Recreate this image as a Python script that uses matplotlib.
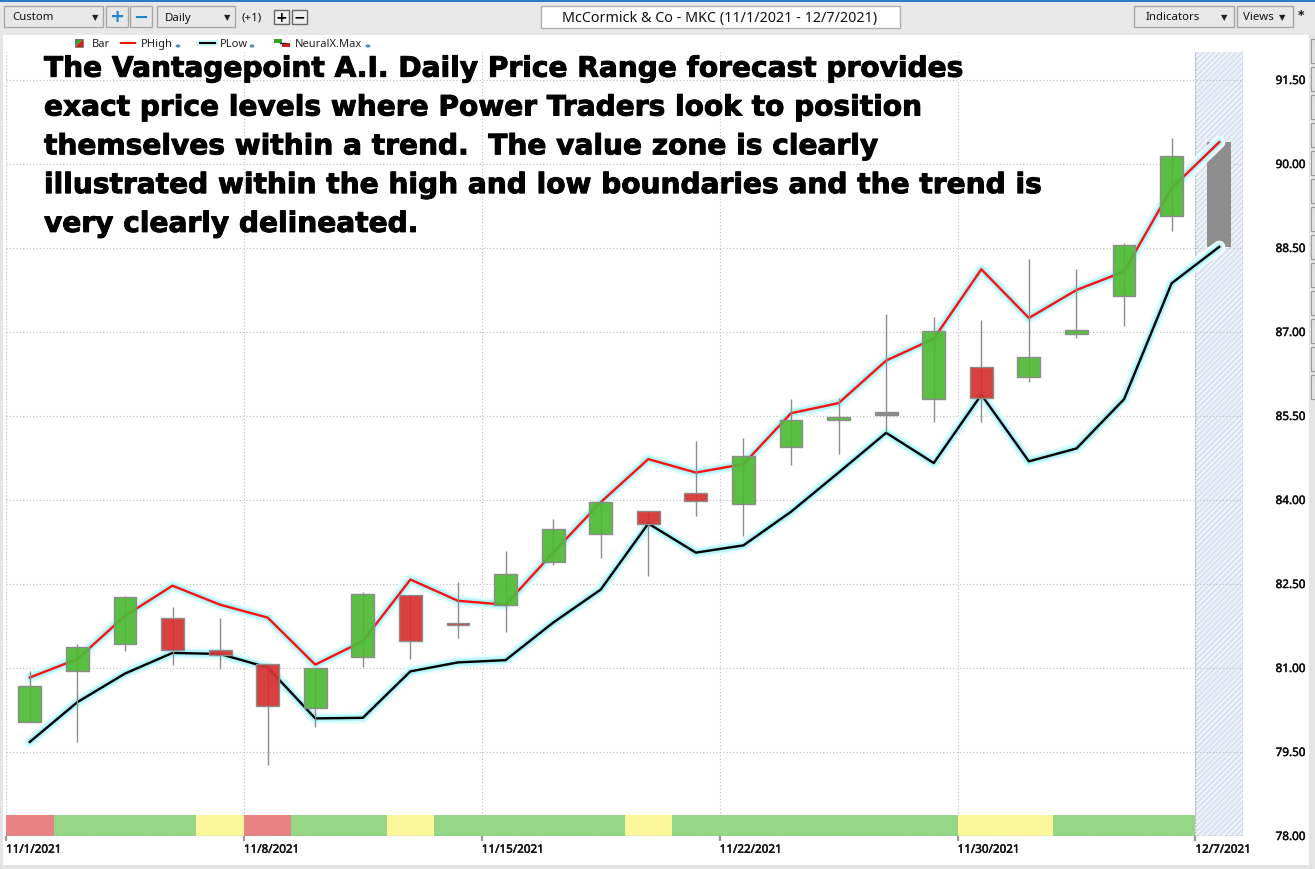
import numpy as np
import matplotlib
matplotlib.use('Agg')
import matplotlib.pyplot as plt
import matplotlib.patheffects as pe
from matplotlib.patches import Rectangle, Polygon, Circle
from matplotlib.lines import Line2D

# trading days (last one is the forecast day)
days = ['11/1', '11/2', '11/3', '11/4', '11/5', '11/8', '11/9', '11/10', '11/11', '11/12',
        '11/15', '11/16', '11/17', '11/18', '11/19', '11/22', '11/23', '11/24', '11/26',
        '11/29', '11/30', '12/1', '12/2', '12/3', '12/6', '12/7']

opens  = [80.03, 80.94, 81.42, 81.90, 81.32, 81.07, 80.28, 81.19, 82.31, 81.81,
          82.12, 82.89, 83.39, 83.81, 84.12, 83.92, 84.94, 85.42, 85.52, 85.81,
          86.37, 86.19, 86.96, 87.64, 89.07]
highs  = [80.94, 81.43, 82.28, 82.09, 81.89, 81.07, 81.00, 82.35, 82.31, 82.53,
          83.09, 83.66, 84.00, 83.81, 85.05, 85.11, 85.80, 85.83, 87.32, 87.26,
          87.21, 88.30, 88.13, 88.59, 90.47]
lows   = [80.03, 79.67, 81.31, 81.05, 80.99, 79.27, 79.94, 81.01, 81.16, 81.53,
          81.65, 82.84, 82.96, 82.65, 83.71, 83.36, 84.63, 84.83, 85.21, 85.40,
          85.39, 86.11, 86.90, 87.11, 88.81]
closes = [80.68, 81.37, 82.26, 81.32, 81.24, 80.33, 81.00, 82.32, 81.48, 81.76,
          82.68, 83.49, 83.96, 83.57, 83.98, 84.78, 85.42, 85.49, 85.52, 87.01,
          85.83, 86.56, 87.04, 88.55, 90.14]

phigh = [80.83, 81.16, 81.93, 82.47, 82.13, 81.90, 81.06, 81.48, 82.58, 82.20,
         82.13, 83.06, 83.96, 84.73, 84.49, 84.64, 85.55, 85.73, 86.49, 86.88,
         88.12, 87.25, 87.75, 88.08, 89.57, 90.39]
plow  = [79.68, 80.39, 80.90, 81.27, 81.25, 81.01, 80.10, 80.11, 80.94, 81.10,
         81.14, 81.81, 82.40, 83.58, 83.06, 83.19, 83.79, 84.49, 85.20, 84.66,
         85.88, 84.69, 84.92, 85.80, 87.87, 88.52]

# NeuralX signal strip: r = down, g = up, y = neutral
signal = ['r', 'g', 'g', 'g', 'y', 'r', 'g', 'g', 'y', 'g', 'g', 'g', 'g', 'y',
          'g', 'g', 'g', 'g', 'g', 'g', 'y', 'y', 'g', 'g', 'g']

tick_days = ['11/1', '11/8', '11/15', '11/22', '11/30', '12/7']
price_ticks = [78.00, 79.50, 81.00, 82.50, 84.00, 85.50, 87.00, 88.50, 90.00, 91.50]

note = ["The Vantagepoint A.I. Daily Price Range forecast provides",
        "exact price levels where Power Traders look to position",
        "themselves within a trend.  The value zone is clearly",
        "illustrated within the high and low boundaries and the trend is",
        "very clearly delineated."]

W, H = 1315, 870
UI = 'Noto Sans'
fig = plt.figure(figsize=(W / 100, H / 100), dpi=100)
fig.patch.set_facecolor('white')


def box(x0, y0, x1, y1, fc, ec='none', lw=1.0, z=1):
    r = Rectangle((x0 / W, 1 - y1 / H), (x1 - x0) / W, (y1 - y0) / H,
                  transform=fig.transFigure, facecolor=fc, edgecolor=ec, lw=lw, zorder=z)
    fig.add_artist(r)


def txt(x, y, s, **kw):
    return fig.text(x / W, 1 - y / H, s, **kw)


def seg(x0, y0, x1, y1, **kw):
    fig.add_artist(Line2D([x0 / W, x1 / W], [1 - y0 / H, 1 - y1 / H],
                          transform=fig.transFigure, **kw))


# ---- main chart axes
ax = fig.add_axes([6 / W, 33 / H, 1237 / W, 784 / H])
ax.set_xlim(-0.5, len(days) - 0.5)
ax.set_ylim(78, 92)
for s in ax.spines.values():
    s.set_visible(False)

x = np.arange(len(days))
grid_kw = dict(color='#bdbdbd', lw=0.8, ls=(0, (1, 2)), zorder=0.5)
for p in price_ticks[1:]:
    ax.axhline(p, **grid_kw)
tick_pos = [days.index(d) - 0.5 for d in tick_days]
for t in tick_pos:
    ax.axvline(t, **grid_kw)

# forecast zone
ax.axvspan(len(days) - 1.5, len(days) - 0.5, facecolor='#eef2f9', edgecolor='#d3dcea',
           hatch='//////', lw=0, zorder=0.3)
ax.axvline(len(days) - 1.5, color='#9fb6d3', lw=0.9, ls=(0, (1, 1.5)), zorder=0.6)
ax.axvline(len(days) - 0.5, color='#3d8fdc', lw=1.0, ls=(0, (1, 1.5)), zorder=0.6)
ax.axhline(78, color='#3d8fdc', lw=1.0, ls=(0, (1, 1.5)), zorder=6)

# signal strip
strip_cols = {'r': '#e88282', 'g': '#96d786', 'y': '#fdf79c'}
ax.bar(x[:-1], 0.38, bottom=78, width=1.0, color=[strip_cols[c] for c in signal],
       lw=0, zorder=1)


def glow_line(y, color):
    for lw, c in [(9, '#f0feff'), (6.5, '#d6fbfe'), (4.2, '#aef4fa')]:
        ax.plot(x, y, color=c, lw=lw, solid_joinstyle='round', solid_capstyle='round', zorder=3)
    ax.plot(x, y, color=color, lw=1.7, solid_joinstyle='round', zorder=3.5)


# forecast bar
ax.add_patch(Rectangle((x[-1] - 0.25, plow[-1]), 0.5, phigh[-1] - plow[-1],
                       facecolor='#8e8e8e', lw=0, zorder=2.5))
glow_line(phigh, '#ff1010')
glow_line(plow, '#000000')

# candles
for i in range(len(opens)):
    o, h, l, c = opens[i], highs[i], lows[i], closes[i]
    if c > o:
        fc = (0.30, 0.73, 0.20, 0.92)
    elif c < o:
        fc = (0.84, 0.19, 0.19, 0.92)
    else:
        fc = (0.55, 0.55, 0.55, 1.0)
    ax.vlines(i, l, h, color='#8c8c8c', lw=1.0, zorder=3.8)
    ax.add_patch(Rectangle((i - 0.24, min(o, c)), 0.48, max(abs(c - o), 0.05),
                           facecolor=fc, edgecolor='#8c8c8c', lw=1.0, zorder=4))

# axis ticks / labels
ax.yaxis.tick_right()
ax.set_yticks(price_ticks)
ax.set_yticklabels([f'{p:.2f}' for p in price_ticks], fontfamily=UI, fontsize=8.4,
                   color='#111111')
ax.tick_params(axis='y', length=0, pad=23.5)
ax.set_xticks(tick_pos)
ax.set_xticklabels([d + '/2021' for d in tick_days], fontfamily=UI, fontsize=8.4,
                   color='#111111', ha='left')
ax.tick_params(axis='x', length=3.8, width=1.6, color='#9a9a9a', pad=2.5)
for lab in ax.get_xticklabels() + ax.get_yticklabels():
    lab.set_path_effects([pe.withStroke(linewidth=0.35, foreground='#111111')])

# annotation text
for k, line in enumerate(note):
    t = txt(44, 77.7 + k * 38.8, line, fontsize=20.2, fontweight='bold',
            fontfamily='DejaVu Sans', va='baseline', color='black', zorder=10)
    t.set_path_effects([pe.withStroke(linewidth=0.7, foreground='black')])

# ---- window chrome
box(0, 0, W, 36, '#e8e8e8', z=0)
box(0, 0, W, 3, '#2a7cc4', z=0)
box(0, 36, 3, H, '#e4e4e4', z=0)
box(1309, 36, W, H, '#e4e4e4', z=0)
box(0, 866, W, H, '#e4e4e4', z=0)
for yy in range(40, 400, 28):
    box(1311, yy, W, yy + 24, 'none', ec='#9a9a9a', lw=0.8)

# toolbar widgets
box(4, 7, 103, 28, '#e8e8e8', ec='#a8a8a8')
txt(12, 18, 'Custom', fontsize=8.2, fontfamily=UI, va='center', color='#111111')
txt(95, 18, '\u25bc', fontsize=6, va='center', ha='center', color='#222222')
for bx, sym in [(106, '+'), (130, '\u2212')]:
    box(bx, 7, bx + 22, 28, '#e8e8e8', ec='#a8a8a8')
    txt(bx + 11, 17.5, sym, fontsize=13, fontweight='bold', va='center', ha='center',
        color='#1f86d1')
box(157, 7, 235, 28, '#e8e8e8', ec='#a8a8a8')
txt(165, 18, 'Daily', fontsize=8.2, fontfamily=UI, va='center', color='#111111')
txt(227, 18, '\u25bc', fontsize=6, va='center', ha='center', color='#222222')
txt(242, 18, '(+1)', fontsize=8.2, fontfamily=UI, va='center', color='#111111')
for bx, sym in [(274, '+'), (292, '\u2212')]:
    box(bx, 11, bx + 15, 25, '#f0f0f0', ec='#666666')
    txt(bx + 7.5, 17.5, sym, fontsize=10, fontweight='bold', va='center', ha='center',
        color='black')
box(541, 7, 900, 29, 'white', ec='#b0b0b0')
txt(720, 18.5, 'McCormick & Co - MKC (11/1/2021 - 12/7/2021)', fontsize=10.3,
    fontfamily=UI, va='center', ha='center', color='#111111')
box(1134, 7, 1234, 28, '#e8e8e8', ec='#a8a8a8')
txt(1146, 18, 'Indicators', fontsize=8.2, fontfamily=UI, va='center', color='#111111')
txt(1224, 18, '\u25bc', fontsize=6, va='center', ha='center', color='#222222')
box(1237, 7, 1293, 28, '#e8e8e8', ec='#a8a8a8')
txt(1243, 18, 'Views', fontsize=8.2, fontfamily=UI, va='center', color='#111111')
txt(1282, 18, '\u25bc', fontsize=6, va='center', ha='center', color='#222222')
txt(1298, 16, '*', fontsize=9, fontweight='bold', va='center', color='#111111')

# legend row
fig.add_artist(Polygon([(75 / W, 1 - 40 / H), (83 / W, 1 - 40 / H), (75 / W, 1 - 48 / H)],
                       closed=True, transform=fig.transFigure, facecolor='#2da52d', lw=0))
fig.add_artist(Polygon([(83 / W, 1 - 40 / H), (83 / W, 1 - 48 / H), (75 / W, 1 - 48 / H)],
                       closed=True, transform=fig.transFigure, facecolor='#d21e1e', lw=0))
box(75, 40, 83, 48, 'none', ec='#707070', lw=0.6, z=2)
txt(92, 44.5, 'Bar', fontsize=8, fontfamily=UI, va='center', color='#222222')
seg(121, 44, 135, 44, color='#ff1010', lw=1.5)
txt(141, 44.5, 'PHigh', fontsize=8, fontfamily=UI, va='center', color='#222222')
seg(199, 44, 216, 44, color='#c8f8fc', lw=4)
seg(200, 44, 215, 44, color='black', lw=1.5)
txt(220, 44.5, 'PLow', fontsize=8, fontfamily=UI, va='center', color='#222222')
box(274, 40, 282, 44, '#2da52d', z=2)
box(282, 44, 290, 48, '#d21e1e', z=2)
seg(280, 44, 285, 44, color='#222222', lw=1)
txt(295, 44.5, 'NeuralX.Max', fontsize=8, fontfamily=UI, va='center', color='#222222')
for dx in [178, 252, 368]:
    fig.add_artist(Circle((dx / W, 1 - 47 / H), 2.4 / W, transform=fig.transFigure,
                          facecolor='#4a8fa8', lw=0))

fig.savefig('out.png', dpi=100)
